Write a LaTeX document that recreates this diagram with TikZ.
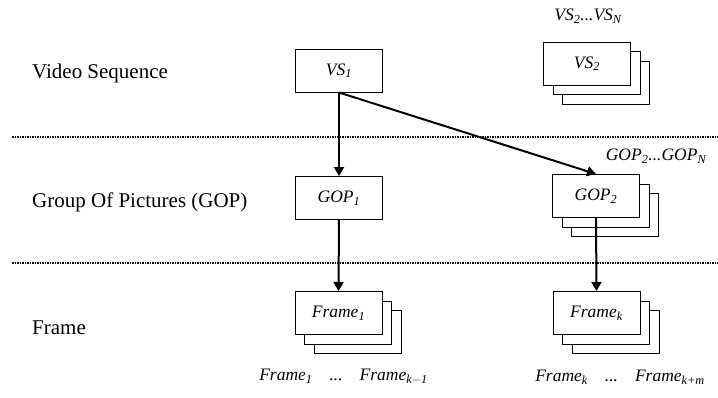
\documentclass[tikz,border=0pt]{standalone}
\usepackage{fontspec}
\setmainfont{Liberation Serif}
\usetikzlibrary{arrows.meta, shadows}

\begin{document}
\begin{tikzpicture}[
    x=1pt, y=-1pt,
    % Global styles
    font=\fontsize{21}{25}\selectfont,
    % Box styles
    unit/.style={
        rectangle,
        minimum width=87pt,
        minimum height=43pt,
        inner sep=0pt,
        text centered,
        draw=black,
        fill=white,
        line width=1pt,
        font=\fontsize{17.5}{20}\selectfont\itshape
    },
    stack/.style={
        unit,
        double copy shadow={shadow xshift=9.5pt, shadow yshift=-9.5pt, line width=1pt}
    },
    layer/.style={
        anchor=west,
        inner sep=0pt
    },
    arrow/.style={
        line width=2pt,
        -{Triangle[length=9pt, width=10pt]}
    },
    divider/.style={
        line width=1.5pt,
        densely dotted
    },
    label/.style={
        font=\fontsize{17.5}{20}\selectfont\itshape
    }
]
\useasboundingbox (0,0) rectangle (718,397);

% --- Layers ---
\node (lvs) [layer] at (32,73) {Video Sequence};
\node (lgop) [layer] at (32,202) {Group Of Pictures (GOP)};
\node (lframe) [layer] at (32,328) {Frame};

\draw [divider] (12,137) -- (718,137);
\draw [divider] (12,263) -- (718,263);

% --- Nodes ---
\node (vs1) [unit] at (339,70.5) {VS\textsubscript{1}};
\node (vs2) [stack] at (587,63.7) {VS\textsubscript{2}};
\node (vsn) [label] at (588,16) {VS\textsubscript{2}...VS\textsubscript{N}};

\node (gop1) [unit] at (339,198) {GOP\textsubscript{1}};
\node (gop2) [stack] at (596,196) {GOP\textsubscript{2}};
\node (gopn) [label] at (656,156) {GOP\textsubscript{2}...GOP\textsubscript{N}};

\node (frame1) [stack] at (338.5,313) {Frame\textsubscript{1}};
\node (framek) [stack] at (596.5,313) {Frame\textsubscript{k}};

\node (range1) [label] at (343.5,377) {Frame\textsubscript{1}\hspace{17pt}...\hspace{17pt}Frame\textsubscript{k$-$1}};
\node (range2) [label] at (620,377) {Frame\textsubscript{k}\hspace{17pt}...\hspace{17pt}Frame\textsubscript{k+m}};

% --- Edges ---
\draw [arrow] (vs1.south) -- (gop1.north);
\draw [arrow] (vs1.south) -- (gop2.north);
\draw [arrow] (gop1.south) -- (frame1.north);
\draw [arrow] (gop2.south) -- (framek.north);

\end{tikzpicture}
\end{document}
